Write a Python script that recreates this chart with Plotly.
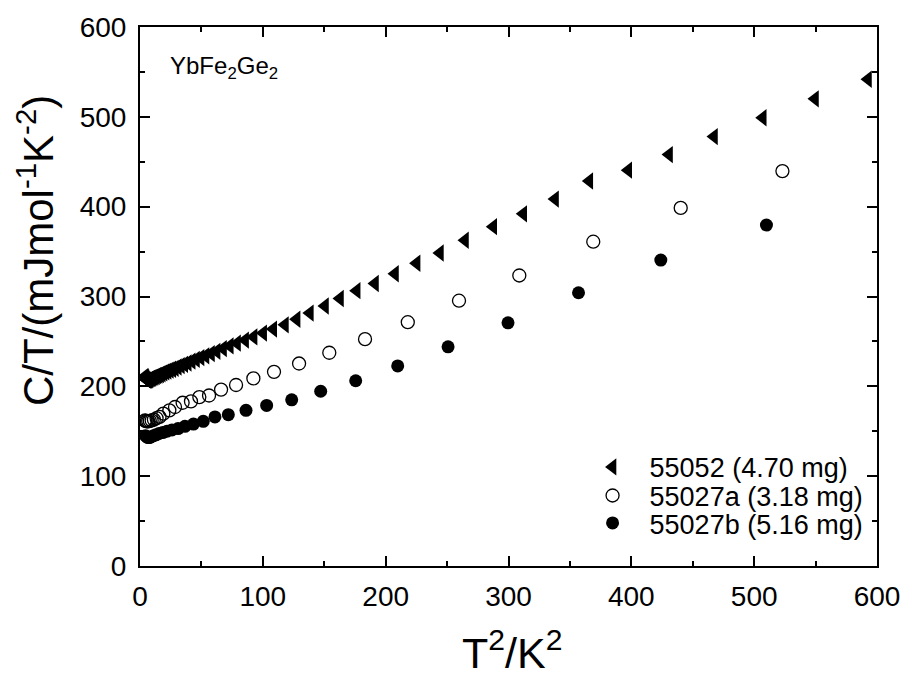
import plotly.graph_objects as go

# 55052 (4.70 mg) - left triangles
t2_a = [3.8, 4.1, 4.5, 4.9, 5.3, 5.8, 6.3, 6.9, 7.5, 8.1, 8.8, 9.5, 10.2, 11.1, 12.0, 13.0,
        14.1, 15.2, 16.4, 17.7, 19.2, 20.8, 22.5, 24.3, 26.3, 28.4, 30.8, 33.3, 36.0, 38.9,
        42.1, 45.6, 49.3, 53.3, 57.8, 62.4, 67.6, 73.1, 79.0, 85.6, 92.5, 100.3, 108.5,
        118.0, 127.5, 138.3, 150.6, 162.8, 176.4, 191.3, 207.6, 225.2, 244.2, 264.6, 287.6,
        312.0, 337.9, 365.8, 397.5, 430.7, 467.3, 507.0, 549.5, 592.7]
ct_a = [211, 210, 209, 208, 207.5, 207, 207, 207, 207.5, 208, 208.5, 209, 209.5, 210, 210.5, 211,
        212, 212.5, 213, 214, 215, 216, 217, 218, 219, 220, 221.5, 223, 224.5, 226,
        228, 230, 232, 234, 236.5, 239, 242, 245, 248, 251.5, 255, 259.3, 263.7,
        268.5, 274.7, 281.5, 289.4, 297.8, 306.5, 314.5, 325.3, 337, 348.4, 362.6, 377.7,
        392, 408.4, 428.6, 440.6, 458, 478, 499, 520, 541.8]

# 55027a (3.18 mg) - open circles
t2_b = [4.0, 4.7, 5.6, 6.7, 8.0, 9.5, 11.3, 13.5, 15.9, 19.0, 23.9, 28.5, 34.7, 41.5, 48.3,
        56.2, 66.0, 78.2, 92.3, 109.1, 129.5, 154.1, 183.2, 218.0, 259.7, 308.8, 369.0,
        440.2, 523.0]
ct_b = [162, 161.5, 161, 161, 161.5, 162, 163, 164.5, 166, 169.6, 173.3, 177, 181.7, 183.2, 188,
        189.8, 196.4, 201.5, 208.8, 216.1, 225.4, 237.4, 252.5, 271.4, 295.3, 323.4, 361,
        398.6, 439.6]

# 55027b (5.16 mg) - filled circles
t2_c = [4.5, 5.5, 6.5, 7.7, 9.2, 11.0, 13.0, 15.5, 18.5, 22.0, 26.0, 31.0, 36.6, 43.5, 51.5,
        61.0, 71.9, 86.3, 103.1, 123.5, 147.1, 175.6, 209.8, 250.8, 299.6, 357.0, 424.0, 510.0]
ct_c = [145, 144, 143, 143, 144, 145, 146, 147.5, 148.5, 150, 151.5, 153, 155.5, 158, 161,
        166, 168.5, 173.3, 178.8, 185, 194.5, 206.2, 222.7, 244, 270.7, 304.2, 340.5, 379.5]

names = ["55052 (4.70 mg)", "55027a (3.18 mg)", "55027b (5.16 mg)"]

FONT = "Liberation Sans, Arial, sans-serif"

fig = go.Figure()
fig.add_trace(go.Scatter(x=t2_a, y=ct_a, mode="markers", name=names[0], legend="legend",
                         marker=dict(symbol="triangle-left", size=15, color="black",
                                     line=dict(width=0))))
fig.add_trace(go.Scatter(x=t2_b, y=ct_b, mode="markers", name=names[1], legend="legend2",
                         marker=dict(symbol="circle-open", size=13, color="black",
                                     line=dict(width=1.3, color="black"))))
fig.add_trace(go.Scatter(x=t2_c, y=ct_c, mode="markers", name=names[2], legend="legend3",
                         marker=dict(symbol="circle", size=13, color="black",
                                     line=dict(width=0))))

axis_common = dict(
    showline=True, linecolor="black", linewidth=2, mirror="allticks",
    ticks="inside", ticklen=10, tickwidth=2, tickcolor="black",
    showgrid=False, zeroline=False,
    minor=dict(ticks="inside", ticklen=5, tickwidth=2, tickcolor="black", dtick=50, showgrid=False),
)

fig.update_xaxes(range=[0, 600], tick0=0, dtick=100,
                 tickfont=dict(family=FONT, size=28, color="black"),
                 ticklabelstandoff=4,
                 **axis_common)
fig.update_yaxes(range=[0, 600], tick0=0, dtick=100,
                 tickfont=dict(family=FONT, size=28, color="black"),
                 ticklabelstandoff=6,
                 **axis_common)

# axis titles
fig.add_annotation(text="T<sup>2</sup>/K<sup>2</sup>", xref="paper", yref="paper",
                   x=0.505, y=-0.155, xanchor="center", yanchor="middle", showarrow=False,
                   font=dict(family=FONT, size=43, color="black"))
fig.add_annotation(text="C/T/(mJmol<sup>-1</sup>K<sup>-2</sup>)", xref="paper", yref="paper",
                   x=-0.142, y=0.585, xanchor="center", yanchor="middle", showarrow=False,
                   textangle=-90,
                   font=dict(family=FONT, size=42, color="black"))

fig.add_annotation(text="YbFe<sub>2</sub>Ge<sub>2</sub>", xref="paper", yref="paper",
                   x=0.038, y=0.925, xanchor="left", yanchor="middle", showarrow=False,
                   font=dict(family=FONT, size=24, color="black"))

leg_common = dict(xanchor="left", yanchor="middle", bgcolor="rgba(0,0,0,0)",
                  font=dict(family=FONT, size=27, color="black"), itemwidth=64)

fig.update_layout(
    width=912, height=677,
    margin=dict(l=140, r=33, t=20, b=111),
    plot_bgcolor="white", paper_bgcolor="white",
    font=dict(family=FONT, color="black"),
    showlegend=True,
    legend=dict(x=0.591, y=0.183, **leg_common),
    legend2=dict(x=0.591, y=0.130, **leg_common),
    legend3=dict(x=0.591, y=0.079, **leg_common),
)

fig.write_html("out.html")
